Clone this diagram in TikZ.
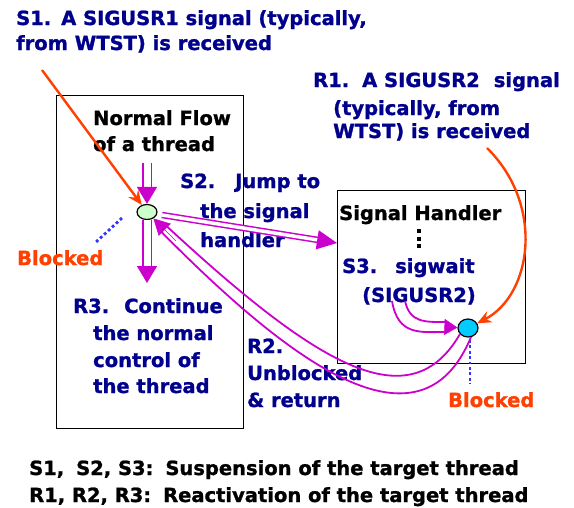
\documentclass[tikz,border=0pt]{standalone}
\usepackage{fontspec}
\setmainfont{DejaVu Sans}[BoldFeatures={FakeBold=1.2}]
\usetikzlibrary{arrows.meta,shapes.geometric,calc}
\definecolor{navy}{RGB}{0,0,140}
\definecolor{orng}{RGB}{255,64,0}
\definecolor{mag}{RGB}{204,0,204}
\definecolor{dotblue}{RGB}{51,51,255}
\definecolor{gfill}{RGB}{204,255,204}
\definecolor{bfill}{RGB}{0,204,255}
\begin{document}
\begin{tikzpicture}[x=1pt,y=-1pt,
  txt/.style={inner sep=0pt, anchor=base west, font=\fontsize{19.5}{24}\selectfont\bfseries},
  ntxt/.style={txt, text=navy},
  otxt/.style={txt, text=orng},
  frame/.style={draw, line width=1.3pt, anchor=north west, inner sep=0pt},
  oarrow/.style={draw=orng, line width=2.4pt, -{Stealth[length=14pt,width=12pt]}},
  dblarrow/.style={draw=mag, line width=1.6pt, double=white, double distance=7pt, -{Triangle[length=17pt,width=20pt]}},
  dblthin/.style={draw=mag, line width=1.5pt, double=white, double distance=3.5pt, -{Triangle[length=20pt,width=19pt]}},
  magline/.style={draw=mag, line width=1.8pt},
  magtip/.style={draw=mag, line width=0.5pt, -{Triangle[length=#1]}},
  dotline/.style={draw=dotblue, line width=2.8pt, dash pattern=on 2.8pt off 2.6pt}
]
\useasboundingbox (0,0) rectangle (574,507);

% boxes
\node[frame, minimum width=187pt, minimum height=333pt] (lbox) at (56,95) {};
\node[frame, minimum width=188pt, minimum height=173pt] (rbox) at (337,190) {};

% ellipses
\node[ellipse, draw, line width=1.2pt, fill=gfill, minimum width=20pt, minimum height=15pt, inner sep=0pt] (g) at (147,212) {};
\node[ellipse, draw, line width=1.2pt, fill=bfill, minimum width=20pt, minimum height=18pt, inner sep=0pt] (b) at (468,328) {};

% texts
\node[ntxt] (t1a) at (16,25) {S1.\hspace{10pt}A SIGUSR1 signal (typically,};
\node[ntxt] (t1b) at (16,50) {from WTST) is received};
\node[txt] (nf1) at (93,125) {Normal Flow};
\node[txt] (nf2) at (93,151) {of a thread};
\node[ntxt] (s2a) at (180,188) {S2.\hspace{20pt}Jump to};
\node[ntxt] (s2b) at (200,218) {the signal};
\node[ntxt] (s2c) at (200,247) {handler};
\node[otxt] (bl1) at (17,265) {Blocked};
\node[ntxt] (r3a) at (73,313) {R3.\hspace{15pt}Continue};
\node[ntxt] (r3b) at (93,340) {the normal};
\node[ntxt] (r3c) at (93,367) {control of};
\node[ntxt] (r3d) at (93,393) {the thread};
\node[ntxt] (r1a) at (313,87) {R1.\hspace{13pt}A SIGUSR2\hspace{14pt}signal};
\node[ntxt] (r1b) at (333,115) {(typically, from};
\node[ntxt] (r1c) at (333,138) {WTST) is received};
\node[txt] (sh) at (339,220) {Signal Handler};
\node[ntxt] (s3a) at (342,273) {S3.\hspace{18pt}sigwait};
\node[ntxt] (s3b) at (362,302) {(SIGUSR2)};
\node[ntxt] (r2a) at (247,353) {R2.};
\node[ntxt] (r2b) at (247,380) {Unblocked};
\node[ntxt] (r2c) at (247,407) {\& return};
\node[otxt] (bl2) at (448,407) {Blocked};
\node[txt] (bot1) at (29,475) {S1,\hspace{12pt}S2, S3:\hspace{12pt}Suspension of the target thread};
\node[txt] (bot2) at (29,502) {R1, R2, R3:\hspace{12pt}Reactivation of the target thread};

% vertical dots in signal handler
\foreach \yy in {229,236.5,244}
  \fill (416.5,\yy) rectangle ++(4,4);

% coordinates
\coordinate (s1src) at (42,70);
\coordinate (r1src) at (487,148);
\coordinate (nfin) at (147,163);
\coordinate (cont) at (147,283);
\coordinate (gout) at (162,215);
\coordinate (hin) at (337,243);
\coordinate (d1a) at (122,218);
\coordinate (d1b) at (95,243);
\coordinate (d2a) at (470,340);
\coordinate (d2b) at (470,384);
\coordinate (s3o) at (392,301);
\coordinate (s3i) at (405,301);
\coordinate (s3oe) at (446,332);
\coordinate (s3ie) at (446,322);
\coordinate (s3h) at (445,327);
\coordinate (ra) at (161.5,232);
\coordinate (rb) at (167,226.5);
\coordinate (rh) at (176,241);
\coordinate (rae) at (471,337);
\coordinate (rbe) at (460,334);

% orange arrows
\draw[oarrow] (s1src) -- (g);
\draw[oarrow] (r1src) .. controls (545,205) and (532,295) .. (b);

% dotted lines
\draw[dotline] (d1a) -- (d1b);
\draw[dotline] (d2a) -- (d2b);

% double arrows
\draw[dblarrow] (nfin) -- (g.north);
\draw[dblarrow] (g.south) -- (cont);
\draw[dblthin] (gout) -- (hin);

% S3 sigwait arrow
\draw[magline] (s3o) .. controls (398,336) and (420,332) .. (s3oe);
\draw[magline] (s3i) .. controls (410,323) and (425,322) .. (s3ie);
\draw[magtip={13pt,width=16pt}] (s3h) -- (b);

% R2 return arrow
\draw[magline] (rae) .. controls (420,460) and (290,362) .. (ra);
\draw[magline] (rbe) .. controls (410,420) and (320,368) .. (rb);
\draw[magtip={16pt,width=17pt}] (rh) -- (g);
\end{tikzpicture}
\end{document}
